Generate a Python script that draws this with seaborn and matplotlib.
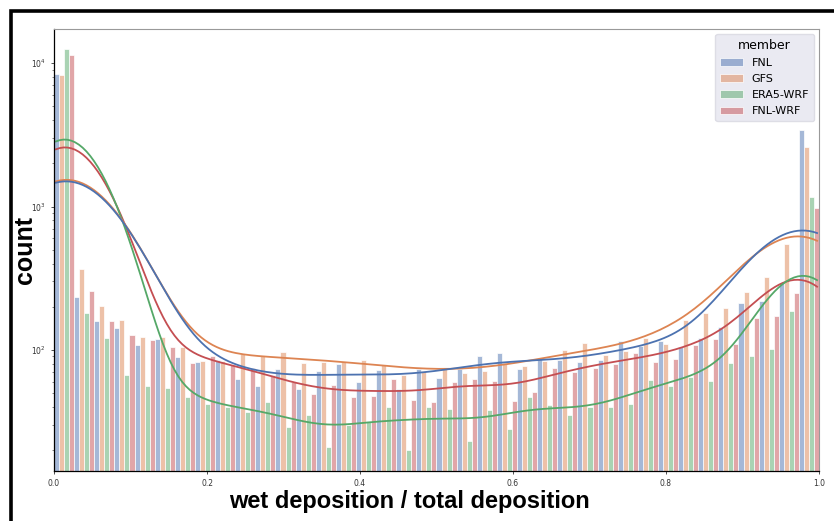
import numpy as np
import pandas as pd
import matplotlib
matplotlib.use("Agg")
import matplotlib.pyplot as plt
from matplotlib.lines import Line2D
import seaborn as sns

# bin counts (38 equal bins from 0 to 1)
members = ["FNL", "GFS", "ERA5-WRF", "FNL-WRF"]
n_bins = 38

fnl = [8410, 233, 160, 142, 109, 119, 89, 82, 85, 63, 56, 74, 53, 71, 80, 60, 72, 53, 74,
       64, 74, 91, 95, 74, 86, 85, 82, 85, 115, 107, 115, 105, 121, 145, 212, 220, 292, 3420]
gfs = [8240, 365, 203, 162, 123, 123, 104, 84, 84, 93, 90, 97, 81, 82, 82, 85, 79, 67, 71,
       75, 69, 71, 81, 77, 84, 100, 111, 92, 99, 121, 110, 162, 182, 195, 253, 321, 546, 2590]
era5_wrf = [12500, 182, 121, 67, 56, 54, 47, 42, 40, 37, 43, 29, 35, 21, 30, 32, 40, 20, 40,
            39, 23, 38, 28, 47, 41, 35, 40, 40, 42, 62, 56, 65, 61, 81, 91, 102, 187, 1172]
fnl_wrf = [11350, 257, 160, 127, 117, 104, 81, 91, 79, 75, 67, 60, 49, 57, 47, 48, 63, 45, 43,
           60, 63, 61, 44, 51, 75, 70, 75, 80, 95, 82, 87, 108, 119, 110, 166, 173, 251, 982]

counts = {"FNL": fnl, "GFS": gfs, "ERA5-WRF": era5_wrf, "FNL-WRF": fnl_wrf}

edges = np.linspace(0, 1, n_bins + 1)
centers = (edges[:-1] + edges[1:]) / 2

# expand the counts into one value per observation
frames = []
for m in members:
    vals = np.repeat(centers, counts[m])
    frames.append(pd.DataFrame({"ratio": vals, "member": m}))
df = pd.concat(frames, ignore_index=True)

fig = plt.figure(figsize=(8.34, 5.21), dpi=100)
ax = fig.add_axes([54 / 834, 1 - 471 / 521, 765 / 834, 442 / 521])

sns.histplot(data=df, x="ratio", hue="member", hue_order=members, palette="deep",
             bins=edges, multiple="dodge", kde=True, kde_kws={"cut": 0.25},
             alpha=0.5, edgecolor="white", linewidth=0.5, line_kws={"linewidth": 1.3},
             ax=ax)

ax.set_yscale("log")
ax.set_xlim(0, 1)
ax.set_ylim(14.3, 17300)

ax.set_xlabel("wet deposition / total deposition", fontsize=17, fontweight="bold",
              family="Liberation Sans")
ax.set_ylabel("count", fontsize=18, fontweight="bold", family="Liberation Sans")
ax.xaxis.set_label_coords(0.465, -0.042)
ax.yaxis.set_label_coords(-0.022, 0.5)

ax.tick_params(axis="both", which="major", labelsize=5.5, length=2.5, width=0.6,
               colors="#333333")
ax.tick_params(axis="y", which="minor", length=1.5, width=0.5, colors="#555555")

for side in ["top", "right"]:
    ax.spines[side].set_color("#999999")
    ax.spines[side].set_linewidth(0.8)
for side in ["left", "bottom"]:
    ax.spines[side].set_color("black")
    ax.spines[side].set_linewidth(0.9)

sns.move_legend(ax, "upper right", bbox_to_anchor=(0.9935, 0.989), borderaxespad=0,
                fontsize=8, title="member", title_fontsize=9, frameon=True,
                fancybox=True, borderpad=0.45, labelspacing=0.55, handlelength=2.0)
leg = ax.get_legend()
leg.get_frame().set_facecolor("#EAEAF2")
leg.get_frame().set_edgecolor("#DDDDE5")
leg.get_frame().set_alpha(1)

# black frame along the left and top edges of the figure
fig.add_artist(Line2D([11 / 834, 11 / 834, 1.0], [0.0, 1 - 11 / 521, 1 - 11 / 521],
                      transform=fig.transFigure, color="black", linewidth=2.6,
                      solid_joinstyle="miter"))

fig.savefig("out.png", dpi=100)
